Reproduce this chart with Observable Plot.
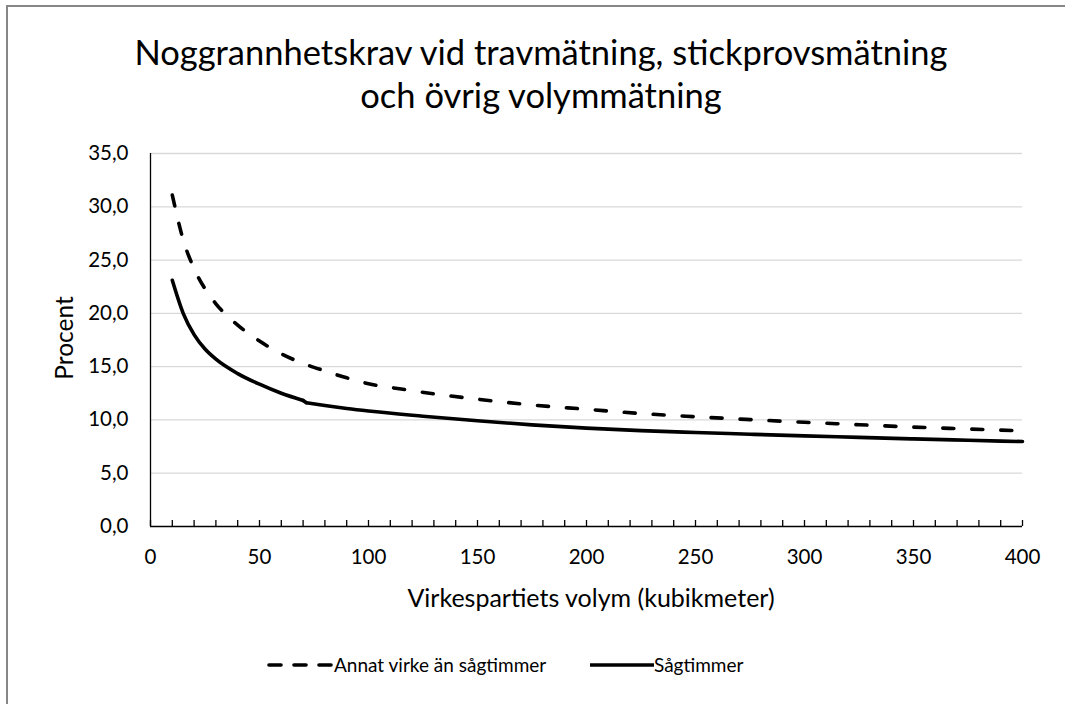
<!DOCTYPE html>
<html><head><meta charset="utf-8">
<script src="https://cdn.jsdelivr.net/npm/d3@7"></script>
<script src="https://cdn.jsdelivr.net/npm/@observablehq/plot@0.6"></script>
<style>
body{margin:0;background:#fff;font-family:Lato,sans-serif;color:#000;}
#wrap{position:relative;width:1065px;height:704px;overflow:hidden;background:#fff;}
#frame{position:absolute;left:6px;top:5px;width:1200px;height:800px;border-left:2px solid #878787;border-top:2px solid #878787;}
#title{position:absolute;left:0;top:30px;width:1082px;text-align:center;font-size:34.5px;line-height:43px;white-space:nowrap;}
#chart{position:absolute;left:0;top:0;}
.lab{position:absolute;font-size:25px;white-space:nowrap;line-height:25px;}
#xlab{left:291px;width:600px;text-align:center;top:585px;}
#ylab{left:63px;top:338px;transform:translate(-50%,-50%) rotate(-90deg);font-size:24.5px;}
.leg{position:absolute;top:654px;font-size:19px;line-height:22px;white-space:nowrap;display:flex;align-items:center;}
.leg svg{display:block;}
</style>
</head><body>
<div id="wrap">
  <div id="frame"></div>
  <div id="title">Noggrannhetskrav vid travmätning, stickprovsmätning<br>och övrig volymmätning</div>
  <div id="chart"></div>
  <div class="lab" id="xlab">Virkespartiets volym (kubikmeter)</div>
  <div class="lab" id="ylab">Procent</div>
  <div class="leg" style="left:266px"><svg width="68" height="22"><line x1="3" y1="11" x2="65" y2="11" stroke="#000" stroke-width="3.6" stroke-dasharray="12,13" stroke-linecap="round"/></svg><span>Annat virke än sågtimmer</span></div>
  <div class="leg" style="left:590px"><svg width="64" height="22"><line x1="0" y1="11" x2="64" y2="11" stroke="#000" stroke-width="3.6"/></svg><span>Sågtimmer</span></div>
</div>
<script>
// Annat virke än sågtimmer (dashed)
const volymAnnat = [10, 15, 20, 25, 30, 40, 50, 60, 70, 80, 90, 100, 115, 130, 150, 175, 200, 225, 250, 275, 300, 325, 350, 375, 400];
const procentAnnat = [31.1, 26.9, 24.2, 22.3, 20.9, 18.9, 17.4, 16.2, 15.3, 14.6, 13.95, 13.4, 12.9, 12.45, 11.95, 11.4, 11.0, 10.6, 10.3, 10.03, 9.78, 9.55, 9.33, 9.15, 8.97];
// Sågtimmer (solid) — the curve has a break between 70 and 71.5
const volymSag = [10, 15, 20, 25, 30, 40, 50, 60, 70, 71.5, 80, 90, 100, 125, 150, 175, 200, 225, 250, 275, 300, 325, 350, 375, 400];
const procentSag = [23.1, 20.0, 18.0, 16.65, 15.7, 14.35, 13.35, 12.5, 11.83, 11.62, 11.35, 11.07, 10.83, 10.35, 9.92, 9.54, 9.23, 9.0, 8.82, 8.66, 8.5, 8.36, 8.22, 8.09, 7.97];
const sagBreak = [70, 71.5];
const yTicks = [0, 5, 10, 15, 20, 25, 30, 35];
const xTicks = [0, 50, 100, 150, 200, 250, 300, 350, 400];
const xMinor = d3.range(0, 401, 10);

const annat = volymAnnat.map((v, i) => ({v, p: procentAnnat[i]}));
const sagAll = volymSag.map((v, i) => ({v, p: procentSag[i]}));
// split into: smooth part before the break, straight joining piece, smooth part after
const sag = [
  ...sagAll.filter(d => d.v <= sagBreak[0]).map(d => ({...d, seg: "a"})),
  ...sagAll.filter(d => d.v >= sagBreak[0] && d.v <= sagBreak[1]).map(d => ({...d, seg: "b"})),
  ...sagAll.filter(d => d.v >= sagBreak[1]).map(d => ({...d, seg: "c"}))
];

const chart = Plot.plot({
  width: 1065,
  height: 600,
  marginLeft: 150,
  marginRight: 43,
  marginTop: 153,
  marginBottom: 74,
  style: {fontFamily: "Lato, sans-serif", background: "transparent", color: "#000"},
  x: {domain: [0, 400]},
  y: {domain: [0, 35]},
  marks: [
    Plot.gridY(yTicks.filter(d => d > 0), {stroke: "#d9d9d9", strokeOpacity: 1, strokeWidth: 1.3}),
    Plot.axisY(yTicks, {tickSize: 0, tickPadding: 22, fontSize: 20.5, label: null, tickFormat: d => d.toFixed(1).replace(".", ",")}),
    Plot.axisX(xMinor, {tickSize: -6, tickFormat: () => "", label: null, strokeWidth: 1.3}),
    Plot.axisX(xTicks, {tickSize: 0, tickPadding: 23, fontSize: 20.5, label: null}),
    Plot.ruleY([0], {stroke: "#000", strokeWidth: 1.3}),
    Plot.ruleX([0], {stroke: "#000", strokeWidth: 1.3}),
    Plot.line(annat, {x: "v", y: "p", curve: "monotone-x", stroke: "#000", strokeWidth: 3.6, strokeDasharray: "11,18", strokeLinecap: "round"}),
    Plot.line(sag, {x: "v", y: "p", z: "seg", curve: "monotone-x", stroke: "#000", strokeWidth: 3.6, strokeLinecap: "round", strokeLinejoin: "round"})
  ]
});
document.getElementById("chart").appendChild(chart);
</script>
</body></html>
